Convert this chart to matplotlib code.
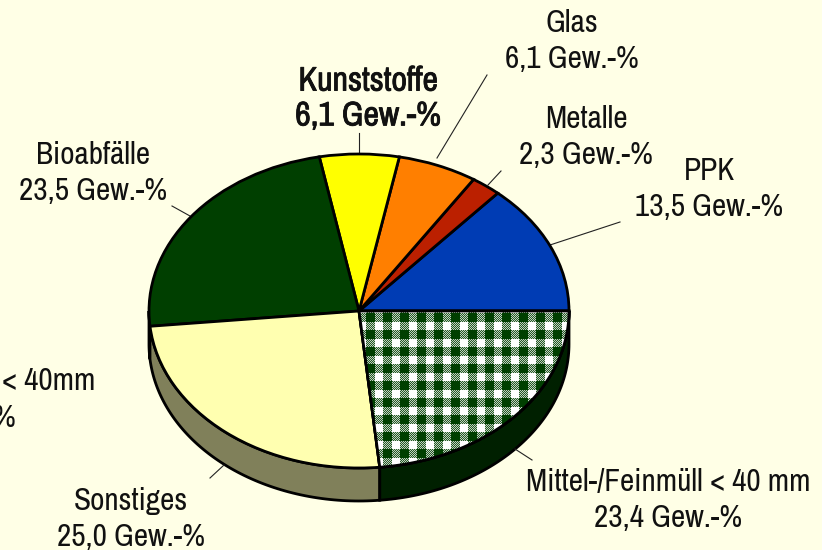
import numpy as np
import matplotlib
matplotlib.use('Agg')
import matplotlib.pyplot as plt
import matplotlib.patheffects as pe
from matplotlib.patches import Polygon
from matplotlib.transforms import Affine2D

names = ['PPK', 'Metalle', 'Glas', 'Kunststoffe', 'Bioabfälle', 'Sonstiges', 'Mittel-/Feinmüll < 40 mm']
values = [13.5, 2.3, 6.1, 6.1, 23.5, 25.0, 23.4]
top_colors = ['#003cb4', '#bb2000', '#ff7f00', '#ffff00', '#003f00', '#ffffb0', '#003f00']
side_colors = ['#001e5a', '#5e1000', '#804000', '#808000', '#002000', '#80805a', '#002000']

W, H = 822, 550
cx, cy, rx, ry, depth = 359, 311, 210, 157, 33
BG = '#ffffe6'

plt.rcParams['font.family'] = ['Archivo Narrow', 'PT Sans Narrow', 'Liberation Sans', 'DejaVu Sans']

fig = plt.figure(figsize=(W / 100, H / 100), dpi=100, facecolor=BG)
ax = fig.add_axes([0, 0, 1, 1])


def set_limits():
    ax.set_aspect('auto')
    ax.set_xlim(-cx / rx, (W - cx) / rx)
    ax.set_ylim((cy - H) / ry, cy / ry)


set_limits()
ax.axis('off')

# reference is in pixels from the top left
pix = Affine2D().scale(1, -1).translate(0, H)

edges = 360 * np.cumsum([0] + values) / sum(values)
d = depth / ry

# side wall of the disc, only the lower half shows
for i in range(len(values)):
    a0, a1 = max(edges[i], 180), min(edges[i + 1], 360)
    if a1 <= a0:
        continue
    t = np.radians(np.linspace(a0, a1, 80))
    top = np.column_stack([np.cos(t), np.sin(t)])
    bot = (top - [0, d])[::-1]
    ax.add_patch(Polygon(np.vstack([top, bot]), closed=True, fc=side_colors[i],
                         ec='black', lw=2, zorder=1))

wedges, _ = ax.pie(values, colors=top_colors, startangle=0, counterclock=True,
                   center=(0, 0), radius=1, frame=False,
                   wedgeprops=dict(ec='black', lw=2, zorder=2))
set_limits()

# gingham fill of the last wedge, mid cells are a fine dither of green and white
cell = 17
yy, xx = np.mgrid[0:H, 0:W]
col = ((xx + 8) % cell >= cell / 2).astype(int)
row = ((yy + 10) % cell >= cell / 2).astype(int)
dither = ((xx + yy) % 2) * 0.6 + 0.15
check = np.where(col + row == 2, 1.0, np.where(col + row == 0, 0.0, dither))
low, high = np.array([0, 63, 0]) / 255, np.ones(3)
rgb = low + check[..., None] * (high - low)
im = ax.imshow(rgb, extent=ax.get_xlim() + ax.get_ylim()[::-1], origin='upper',
               aspect='auto', zorder=3, interpolation='nearest')
set_limits()
im.set_clip_path(wedges[6])
t = np.radians(np.linspace(edges[6], edges[7], 80))
ax.add_patch(Polygon(np.vstack([[[0, 0]], np.column_stack([np.cos(t), np.sin(t)])]),
                     closed=True, fill=False, ec='black', lw=2, zorder=4))

leaders = [((550, 245), (620, 222)), ((488, 185), (501, 171)), ((437, 158), (487, 75)),
           ((359, 153), (359, 133)), ((190, 216), (172, 206)), ((224, 465), (210, 478)),
           ((515, 449), (532, 460))]
for a, b in leaders:
    ax.plot([a[0], b[0]], [a[1], b[1]], color='#222222', lw=0.8, transform=pix, zorder=1)

labels = [
    (709, 189, 'PPK\n13,5 Gew.-%'),
    (586, 137, 'Metalle\n2,3 Gew.-%'),
    (572, 41, 'Glas\n6,1 Gew.-%'),
    (93, 173, 'Bioabfälle\n23,5 Gew.-%'),
    (131, 519, 'Sonstiges\n25,0 Gew.-%'),
    (668, 500, 'Mittel-/Feinmüll < 40 mm\n23,4 Gew.-%'),
]
for x, y, s in labels:
    fig.text(x, y, s, transform=pix, ha='center', va='center', fontsize=22.5,
             color='#111111', linespacing=1.32)

# the narrow font has no bold cut here, so thicken it with a stroke
bold = fig.text(368, 99, 'Kunststoffe\n6,1 Gew.-%', transform=pix, ha='center', va='center',
                fontsize=24.5, color='#111111', linespacing=1.2)
bold.set_path_effects([pe.withStroke(linewidth=0.6, foreground='#111111')])

# this label runs off the left edge in the reference
fig.text(95, 381, '< 40mm', transform=pix, ha='right', va='center', fontsize=22.5, color='#111111')
fig.text(15, 418, '%', transform=pix, ha='right', va='center', fontsize=22.5, color='#111111')

fig.savefig('out.png', dpi=100, facecolor=BG)
